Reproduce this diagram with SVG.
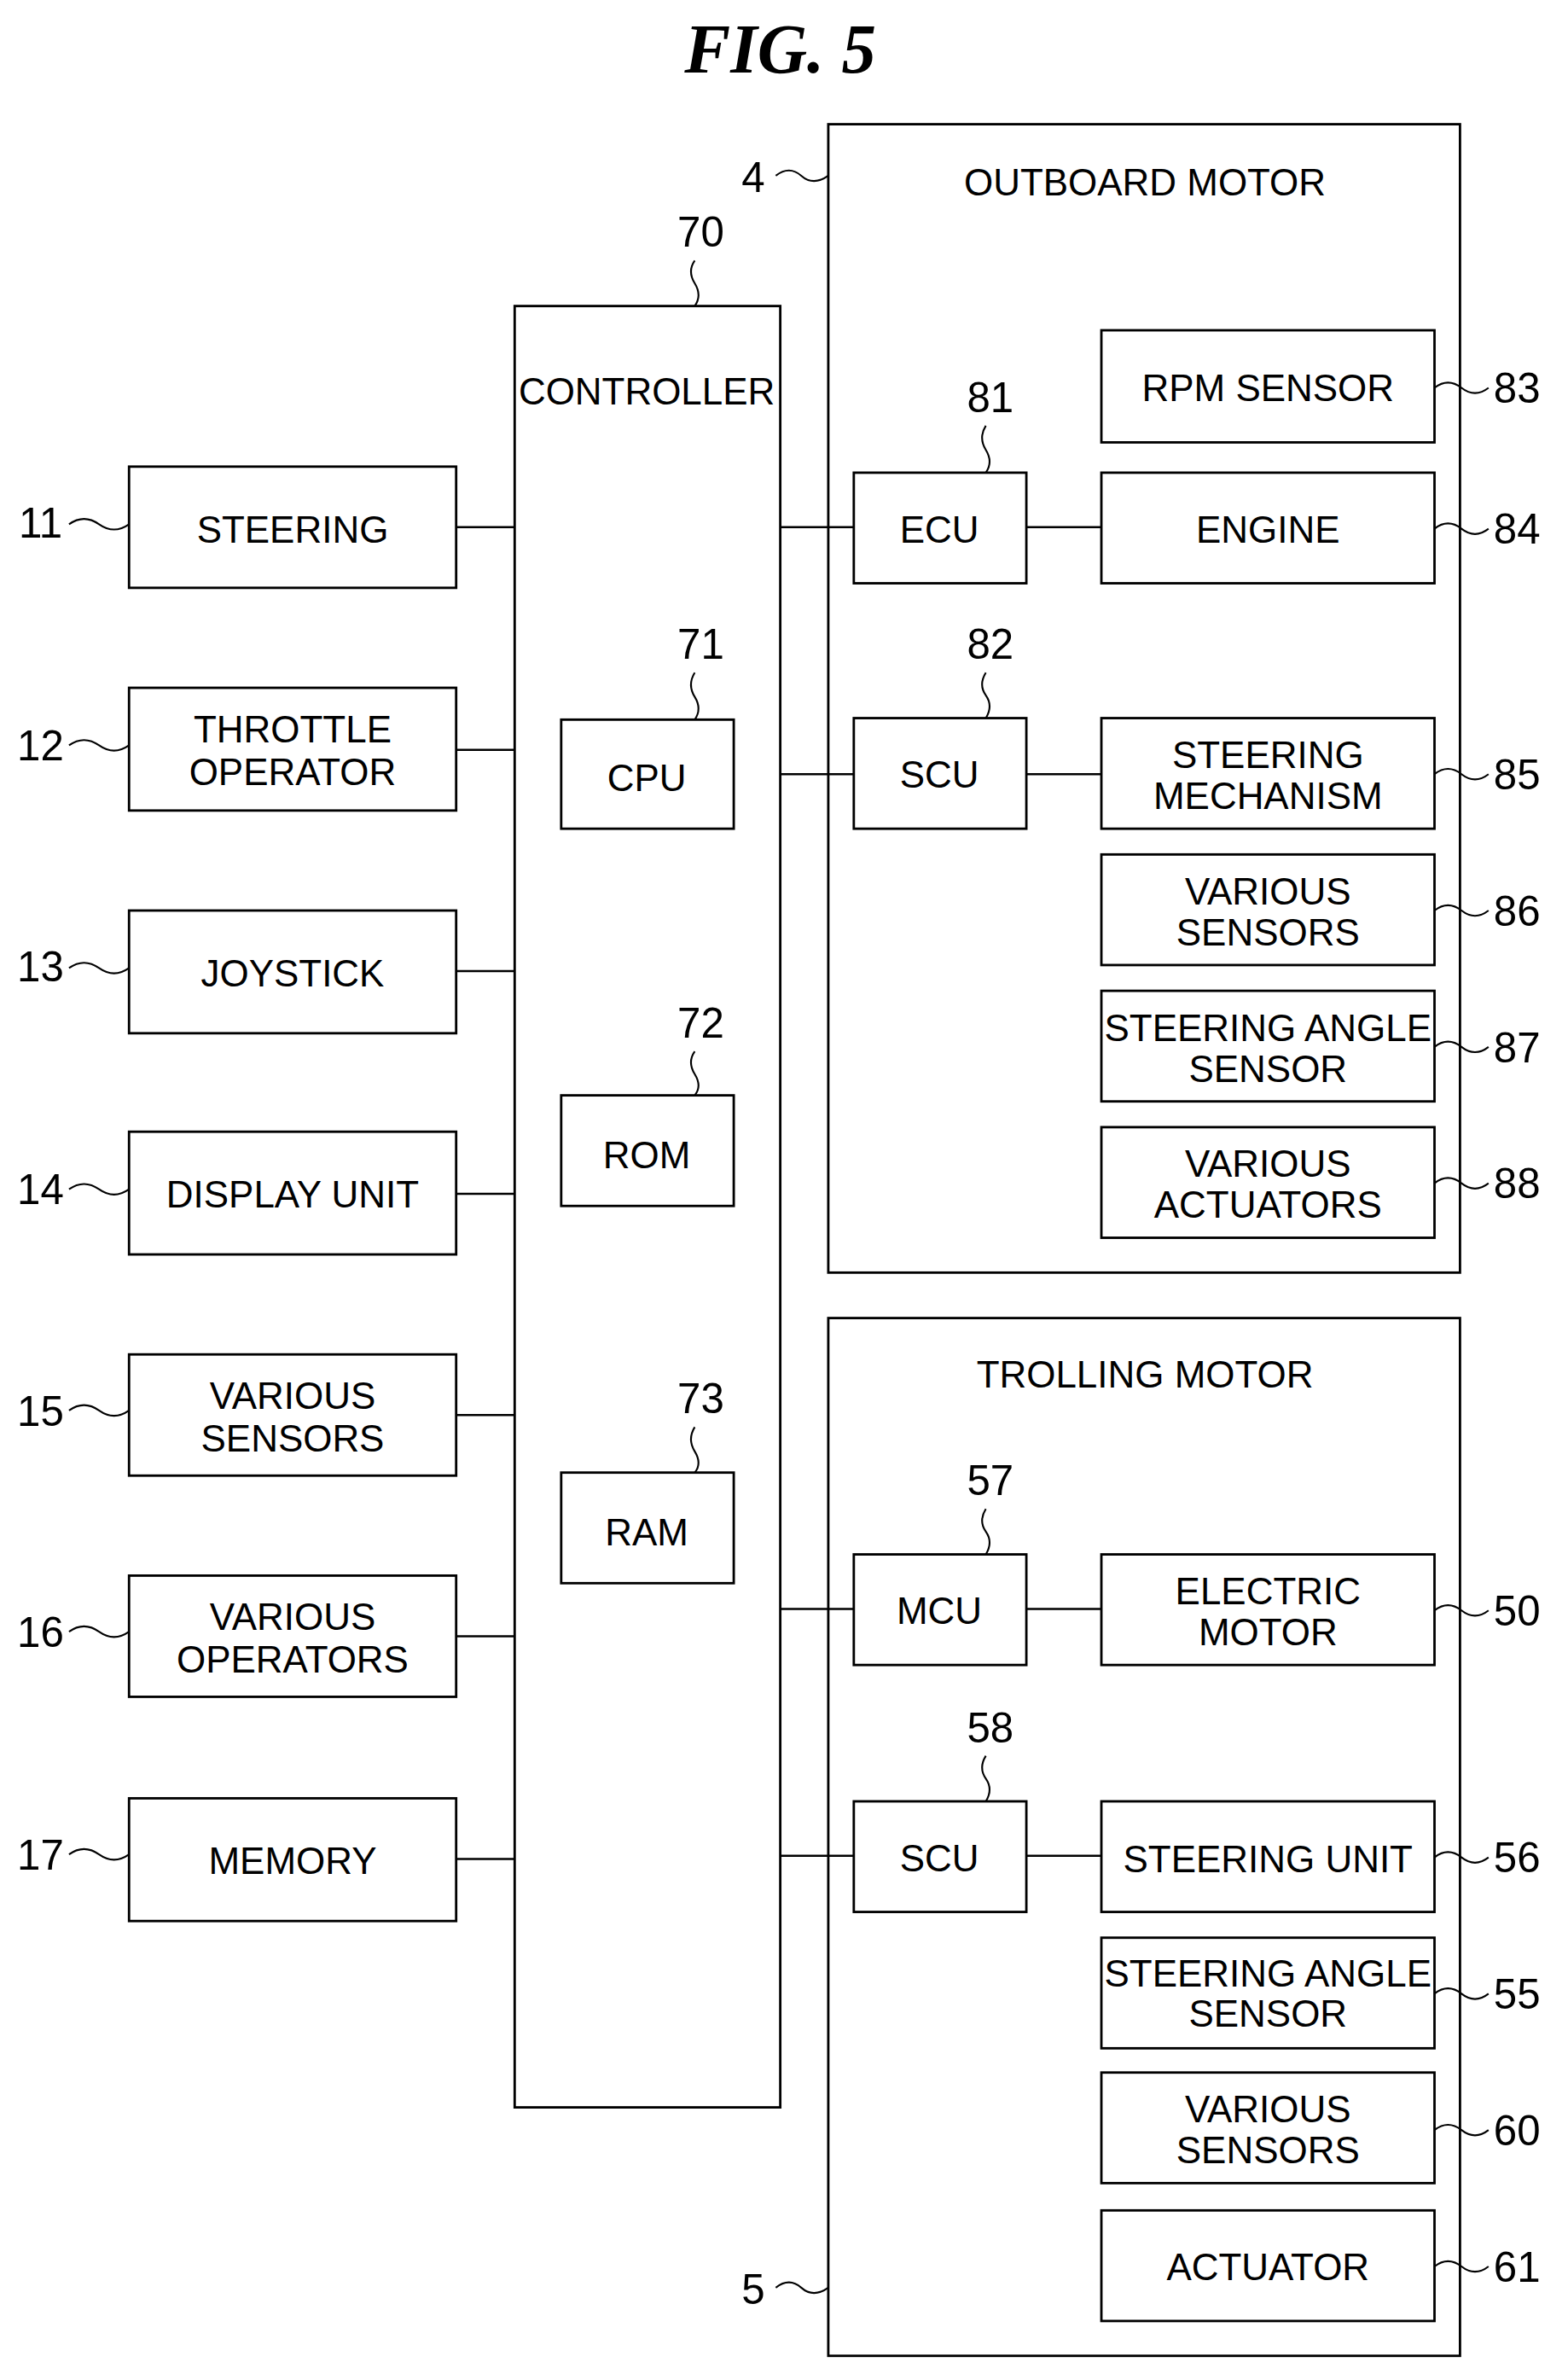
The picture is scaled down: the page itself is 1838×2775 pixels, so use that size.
<svg xmlns="http://www.w3.org/2000/svg" width="1838" height="2775" viewBox="0 0 1838 2775">
<style>
rect{fill:none;stroke:#000;stroke-width:1.6}
.c line{stroke:#000;stroke-width:1.4}
path{fill:none;stroke:#000;stroke-width:1.2}
text{font-family:"Liberation Sans",Arial,sans-serif;font-size:25px;text-anchor:middle;fill:#000}
.n{font-size:28px}
.t{font-family:"Liberation Serif",serif;font-weight:bold;font-style:italic;font-size:46px}
</style>
<rect x="0" y="0" width="1838" height="2775" style="fill:#fff;stroke:none"/>
<g transform="scale(1.7589,1.7754)">
<text class="t" x="520" y="48">FIG. 5</text>
<g id="outboard"><rect x="552" y="82" width="421" height="758"/><text x="763" y="129">OUTBOARD MOTOR</text><text class="n" x="502" y="127">4</text><path d="M517,116 q9,-7 17,0 t18,0"/></g>
<g id="trolling"><rect x="552" y="870" width="421" height="685"/><text x="763" y="916">TROLLING MOTOR</text><text class="n" x="502" y="1521">5</text><path d="M517,1510 q9,-7 17,0 t18,0"/></g>
<g id="controller"><rect x="343" y="202" width="177" height="1189"/><text x="431" y="267">CONTROLLER</text><text class="n" x="467" y="163">70</text><path d="M463,172 q-5,7 0,15 t0,15"/></g>
<g id="n11"><rect x="86" y="308" width="218" height="80"/><text x="195" y="358">STEERING</text><text class="n" x="27" y="355">11</text><path d="M46,346 q10,-7 20,0 t20,0"/></g>
<g id="n12"><rect x="86" y="454" width="218" height="81"/><text x="195" y="490">THROTTLE</text><text x="195" y="518">OPERATOR</text><text class="n" x="27" y="502">12</text><path d="M46,492 q10,-7 20,0 t20,0"/></g>
<g id="n13"><rect x="86" y="601" width="218" height="81"/><text x="195" y="651">JOYSTICK</text><text class="n" x="27" y="648">13</text><path d="M46,639 q10,-7 20,0 t20,0"/></g>
<g id="n14"><rect x="86" y="747" width="218" height="81"/><text x="195" y="797">DISPLAY UNIT</text><text class="n" x="27" y="795">14</text><path d="M46,785 q10,-7 20,0 t20,0"/></g>
<g id="n15"><rect x="86" y="894" width="218" height="80"/><text x="195" y="930">VARIOUS</text><text x="195" y="958">SENSORS</text><text class="n" x="27" y="941">15</text><path d="M46,931 q10,-7 20,0 t20,0"/></g>
<g id="n16"><rect x="86" y="1040" width="218" height="80"/><text x="195" y="1076">VARIOUS</text><text x="195" y="1104">OPERATORS</text><text class="n" x="27" y="1087">16</text><path d="M46,1077 q10,-7 20,0 t20,0"/></g>
<g id="n17"><rect x="86" y="1187" width="218" height="81"/><text x="195" y="1237">MEMORY</text><text class="n" x="27" y="1234">17</text><path d="M46,1224 q10,-7 20,0 t20,0"/></g>
<g id="n71"><rect x="374" y="475" width="115" height="72"/><text x="431" y="522">CPU</text><text class="n" x="467" y="435">71</text><path d="M463,444 q-5,8 0,16 t0,15"/></g>
<g id="n72"><rect x="374" y="723" width="115" height="73"/><text x="431" y="771">ROM</text><text class="n" x="467" y="685">72</text><path d="M463,694 q-5,7 0,15 t0,14"/></g>
<g id="n73"><rect x="374" y="972" width="115" height="73"/><text x="431" y="1020">RAM</text><text class="n" x="467" y="933">73</text><path d="M463,942 q-5,8 0,16 t0,14"/></g>
<g id="n81"><rect x="569" y="312" width="115" height="73"/><text x="626" y="358">ECU</text><text class="n" x="660" y="272">81</text><path d="M657,281 q-5,8 0,16 t0,15"/></g>
<g id="n82"><rect x="569" y="474" width="115" height="73"/><text x="626" y="520">SCU</text><text class="n" x="660" y="435">82</text><path d="M657,444 q-5,8 0,15 t0,15"/></g>
<g id="n83"><rect x="734" y="218" width="222" height="74"/><text x="845" y="265">RPM SENSOR</text><text class="n" x="1011" y="266">83</text><path d="M956,256 q9,-7 18,0 t18,0"/></g>
<g id="n84"><rect x="734" y="312" width="222" height="73"/><text x="845" y="358">ENGINE</text><text class="n" x="1011" y="359">84</text><path d="M956,349 q9,-7 18,0 t18,0"/></g>
<g id="n85"><rect x="734" y="474" width="222" height="73"/><text x="845" y="507">STEERING</text><text x="845" y="534">MECHANISM</text><text class="n" x="1011" y="521">85</text><path d="M956,511 q9,-7 18,0 t18,0"/></g>
<g id="n86"><rect x="734" y="564" width="222" height="73"/><text x="845" y="597">VARIOUS</text><text x="845" y="624">SENSORS</text><text class="n" x="1011" y="611">86</text><path d="M956,601 q9,-7 18,0 t18,0"/></g>
<g id="n87"><rect x="734" y="654" width="222" height="73"/><text x="845" y="687">STEERING ANGLE</text><text x="845" y="714">SENSOR</text><text class="n" x="1011" y="701">87</text><path d="M956,691 q9,-7 18,0 t18,0"/></g>
<g id="n88"><rect x="734" y="744" width="222" height="73"/><text x="845" y="777">VARIOUS</text><text x="845" y="804">ACTUATORS</text><text class="n" x="1011" y="791">88</text><path d="M956,781 q9,-7 18,0 t18,0"/></g>
<g id="n57"><rect x="569" y="1026" width="115" height="73"/><text x="626" y="1072">MCU</text><text class="n" x="660" y="987">57</text><path d="M657,996 q-5,8 0,15 t0,15"/></g>
<g id="n58"><rect x="569" y="1189" width="115" height="73"/><text x="626" y="1235">SCU</text><text class="n" x="660" y="1150">58</text><path d="M657,1159 q-5,8 0,15 t0,15"/></g>
<g id="n50"><rect x="734" y="1026" width="222" height="73"/><text x="845" y="1059">ELECTRIC</text><text x="845" y="1086">MOTOR</text><text class="n" x="1011" y="1073">50</text><path d="M956,1063 q9,-7 18,0 t18,0"/></g>
<g id="n56"><rect x="734" y="1189" width="222" height="73"/><text x="845" y="1236">STEERING UNIT</text><text class="n" x="1011" y="1236">56</text><path d="M956,1226 q9,-7 18,0 t18,0"/></g>
<g id="n55"><rect x="734" y="1279" width="222" height="73"/><text x="845" y="1311">STEERING ANGLE</text><text x="845" y="1338">SENSOR</text><text class="n" x="1011" y="1326">55</text><path d="M956,1316 q9,-7 18,0 t18,0"/></g>
<g id="n60"><rect x="734" y="1368" width="222" height="73"/><text x="845" y="1401">VARIOUS</text><text x="845" y="1428">SENSORS</text><text class="n" x="1011" y="1416">60</text><path d="M956,1406 q9,-7 18,0 t18,0"/></g>
<g id="n61"><rect x="734" y="1459" width="222" height="73"/><text x="845" y="1505">ACTUATOR</text><text class="n" x="1011" y="1506">61</text><path d="M956,1496 q9,-7 18,0 t18,0"/></g>
<g class="c" id="connectors">
<line x1="304" y1="348" x2="343" y2="348"/><line x1="304" y1="495" x2="343" y2="495"/><line x1="304" y1="641" x2="343" y2="641"/><line x1="304" y1="788" x2="343" y2="788"/><line x1="304" y1="934" x2="343" y2="934"/><line x1="304" y1="1080" x2="343" y2="1080"/><line x1="304" y1="1227" x2="343" y2="1227"/>
<line x1="520" y1="348" x2="569" y2="348"/><line x1="684" y1="348" x2="734" y2="348"/>
<line x1="520" y1="511" x2="569" y2="511"/><line x1="684" y1="511" x2="734" y2="511"/>
<line x1="520" y1="1062" x2="569" y2="1062"/><line x1="684" y1="1062" x2="734" y2="1062"/>
<line x1="520" y1="1225" x2="569" y2="1225"/><line x1="684" y1="1225" x2="734" y2="1225"/>
</g>
</g>
</svg>
